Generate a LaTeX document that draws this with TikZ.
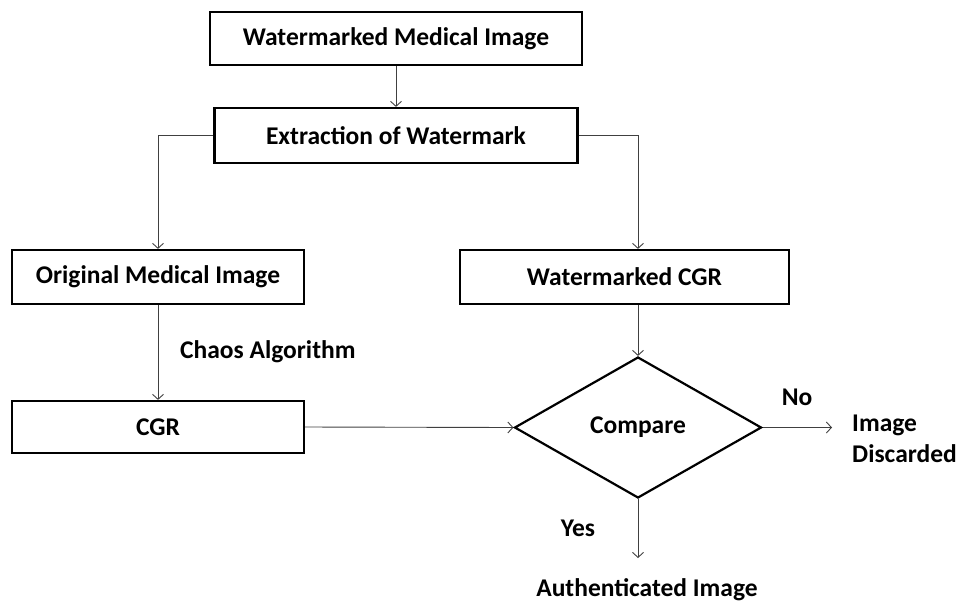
\documentclass[tikz,border=0pt]{standalone}
\usepackage{fontspec}
\setmainfont{Carlito}
\usetikzlibrary{arrows.meta,positioning,shapes.geometric}

\begin{document}
\begin{tikzpicture}[
  x=1pt, y=-1pt,
  box/.style={rectangle, draw, line width=2.2pt, inner sep=0pt,
              font=\fontsize{25.5}{31}\selectfont\bfseries},
  dec/.style={diamond, draw, line width=2.2pt, inner sep=0pt, aspect=1.75,
              minimum width=247pt, minimum height=141pt,
              font=\fontsize{25.5}{31}\selectfont\bfseries},
  lbl/.style={font=\fontsize{25.5}{31}\selectfont\bfseries, inner sep=0pt},
  arr/.style={-{Straight Barb[length=5pt,width=11pt]}, line width=0.9pt, black!75}
]
\useasboundingbox (0,0) rectangle (961,603);

\node[box, minimum width=372pt, minimum height=53pt] (wmi) at (396,38.5) {Watermarked Medical Image};
\node[box, minimum width=363pt, minimum height=55pt] (ew) at (396,135.5) {Extraction of Watermark};
\node[box, minimum width=292pt, minimum height=54pt] (omi) at (158,277) {Original Medical Image};
\node[box, minimum width=329pt, minimum height=54pt] (wcgr) at (624.5,277) {Watermarked CGR};
\node[box, minimum width=292pt, minimum height=52pt] (cgr) at (158,427) {CGR};
\node[dec] (cmp) at (638,427.5) {Compare};

\coordinate (no end) at (832,427.5);
\coordinate (yes end) at (638,558);

\node[lbl, anchor=west] (chaos) at (180,352) {Chaos Algorithm};
\node[lbl] (no) at (797,397) {No};
\node[lbl, anchor=west, align=left] (disc) at (852,439) {Image\\Discarded};
\node[lbl] (yes) at (578,528) {Yes};
\node[lbl] (auth) at (647,590) {Authenticated Image};

\draw[arr] (wmi) -- (ew);
\draw[arr] (ew.west) -| (omi.north);
\draw[arr] (ew.east) -| (cmp.north |- wcgr.north);
\draw[arr] (omi) -- (cgr);
\draw[arr] (cmp.north |- wcgr.south) -- (cmp.north);
\draw[arr] (cgr.east) -- (cmp.west);
\draw[arr] (cmp.east) -- (no end);
\draw[arr] (cmp.south) -- (yes end);
\end{tikzpicture}
\end{document}
